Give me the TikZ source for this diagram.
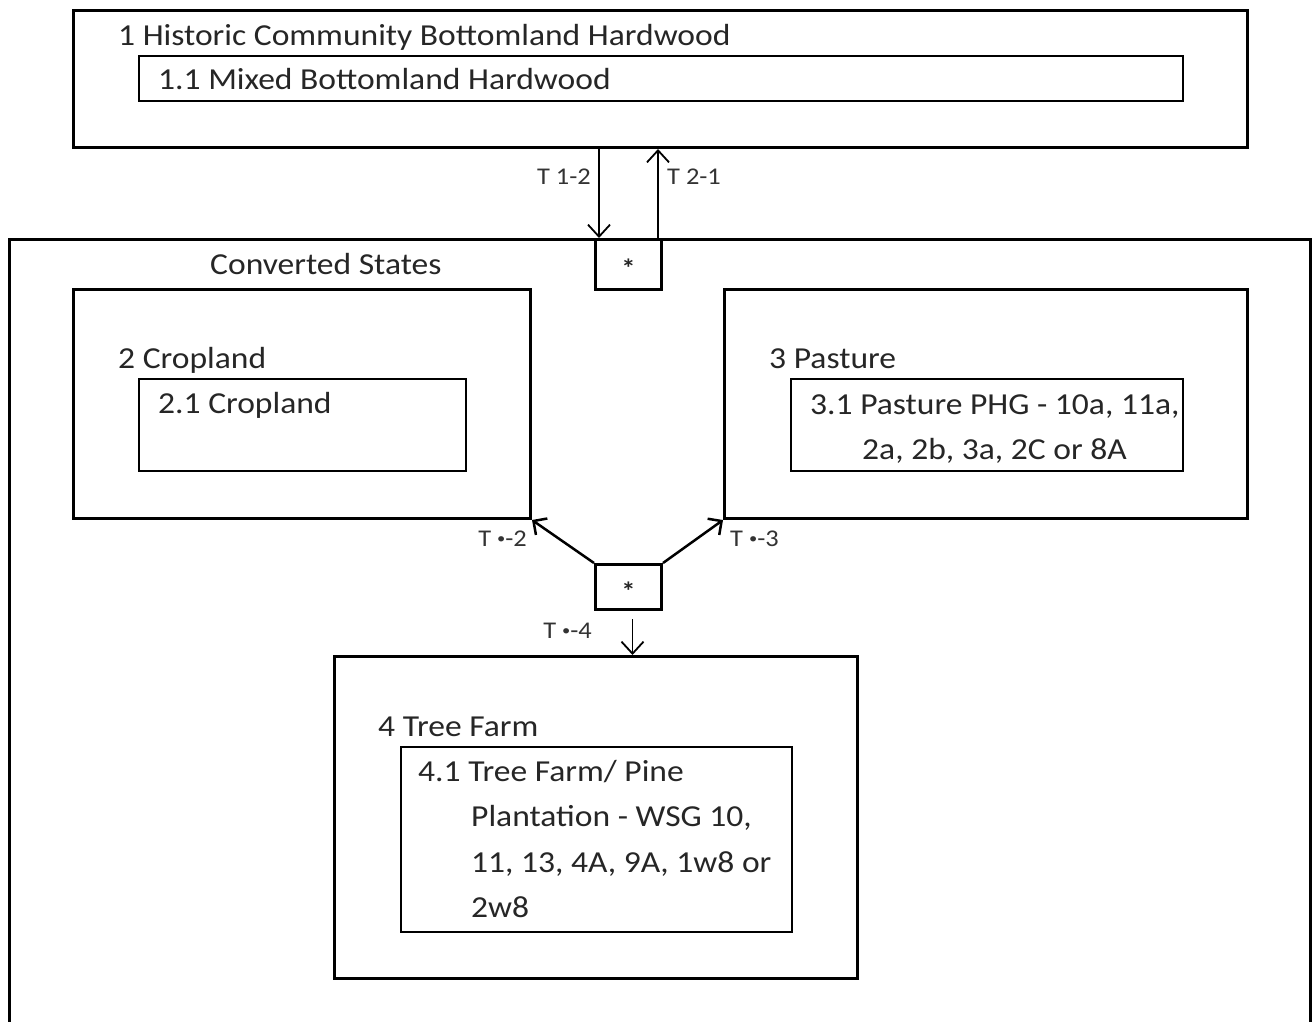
\documentclass[tikz,border=0pt]{standalone}
\usepackage{fontspec}
\setmainfont{Carlito}[FakeStretch=1.1]
\usetikzlibrary{arrows.meta,calc}
\newcommand{\smdot}{\raisebox{3pt}{\fontsize{15}{15}\selectfont\textbullet}}
\begin{document}
\begin{tikzpicture}[x=1pt,y=-1pt,
  outerbox/.style={draw, line width=3pt, inner sep=0pt, anchor=north west},
  innerbox/.style={draw, line width=2pt, inner sep=0pt, anchor=north west},
  txt/.style={anchor=base west, inner sep=0pt, font=\fontsize{30.5}{35}\selectfont, text=black!85},
  lbl/.style={anchor=base west, inner sep=0pt, font=\fontsize{24}{30}\selectfont, text=black!80},
  star/.style={inner sep=0pt, font=\fontsize{26}{26}\selectfont\bfseries, text=black!85},
  arr/.style={line width=1.8pt, -{Straight Barb[length=12pt,width=22pt,line width=1.8pt]}},
  conn/.style={line width=2.5pt, -{Straight Barb[length=10pt,width=20pt,line width=2.5pt]}}]
\useasboundingbox (0,0) rectangle (1312,1021);
\clip (0,0) rectangle (1312,1021);
\fill[white] (0,0) rectangle (1312,1021);
% top state
\node[outerbox, minimum width=1174pt, minimum height=137pt] (top) at (72,9) {};
\node[innerbox, minimum width=1044pt, minimum height=45pt] (mix) at (138,55) {};
\node[txt] (t1) at (118,45) {1 Historic Community Bottomland Hardwood};
\node[txt] (t11) at (158,89) {1.1 Mixed Bottomland Hardwood};
% converted states
\node[outerbox, minimum width=1301pt, minimum height=800pt] (conv) at (8,238) {};
\node[txt] (tc) at (210,274) {Converted States};
\node[outerbox, minimum width=66pt, minimum height=50pt] (s1) at (594,238) {};
\node[star] (s1t) at ($(s1.center)+(0,4)$) {*};
% cropland
\node[outerbox, minimum width=457pt, minimum height=229pt] (crop) at (72,288) {};
\node[txt] (t2) at (118,368) {2 Cropland};
\node[innerbox, minimum width=327pt, minimum height=92pt] (crop1) at (138,378) {};
\node[txt] (t21) at (158,413) {2.1 Cropland};
% pasture
\node[outerbox, minimum width=523pt, minimum height=229pt] (past) at (723,288) {};
\node[txt] (t3) at (769,368) {3 Pasture};
\node[innerbox, minimum width=392pt, minimum height=92pt] (past1) at (790,378) {};
\node[txt] (t31a) at (810,414) {3.1 Pasture PHG - 10a, 11a,};
\node[txt] (t31b) at (862,459) {2a, 2b, 3a, 2C or 8A};
% middle star
\node[outerbox, minimum width=66pt, minimum height=45pt] (s2) at (594,563) {};
\node[star] (s2t) at ($(s2.center)+(0,4)$) {*};
% tree farm
\node[outerbox, minimum width=523pt, minimum height=322pt] (tree) at (333,655) {};
\node[txt] (t4) at (378,736) {4 Tree Farm};
\node[innerbox, minimum width=391pt, minimum height=185pt] (tree1) at (400,746) {};
\node[txt] (t41a) at (418,781) {4.1 Tree Farm/ Pine};
\node[txt] (t41b) at (471,826) {Plantation - WSG 10,};
\node[txt] (t41c) at (471,872) {11, 13, 4A, 9A, 1w8 or};
\node[txt] (t41d) at (471,917) {2w8};
% connectors
\coordinate (a12) at ($(s1.north west)+(5,0)$);
\coordinate (a21) at ($(s1.north east)+(-5,0)$);
\draw[arr] (top.south -| a12) -- (a12);
\draw[arr] (a21) -- (top.south -| a21);
\node[lbl, anchor=base east] (l12) at (591,184) {T 1-2};
\node[lbl] (l21) at (667,184) {T 2-1};
\draw[conn] (s2.north west) -- (crop.south east);
\draw[conn] (s2.north east) -- (past.south west);
\node[lbl, anchor=base east] (l2) at (527,546) {T \smdot-2};
\node[lbl] (l3) at (730,546) {T \smdot-3};
\coordinate (a4) at ($(s2.south)+(4,8)$);
\draw[arr] (a4) -- (tree.north -| a4);
\node[lbl, anchor=base east] (l4) at (592,638) {T \smdot-4};
\end{tikzpicture}
\end{document}
